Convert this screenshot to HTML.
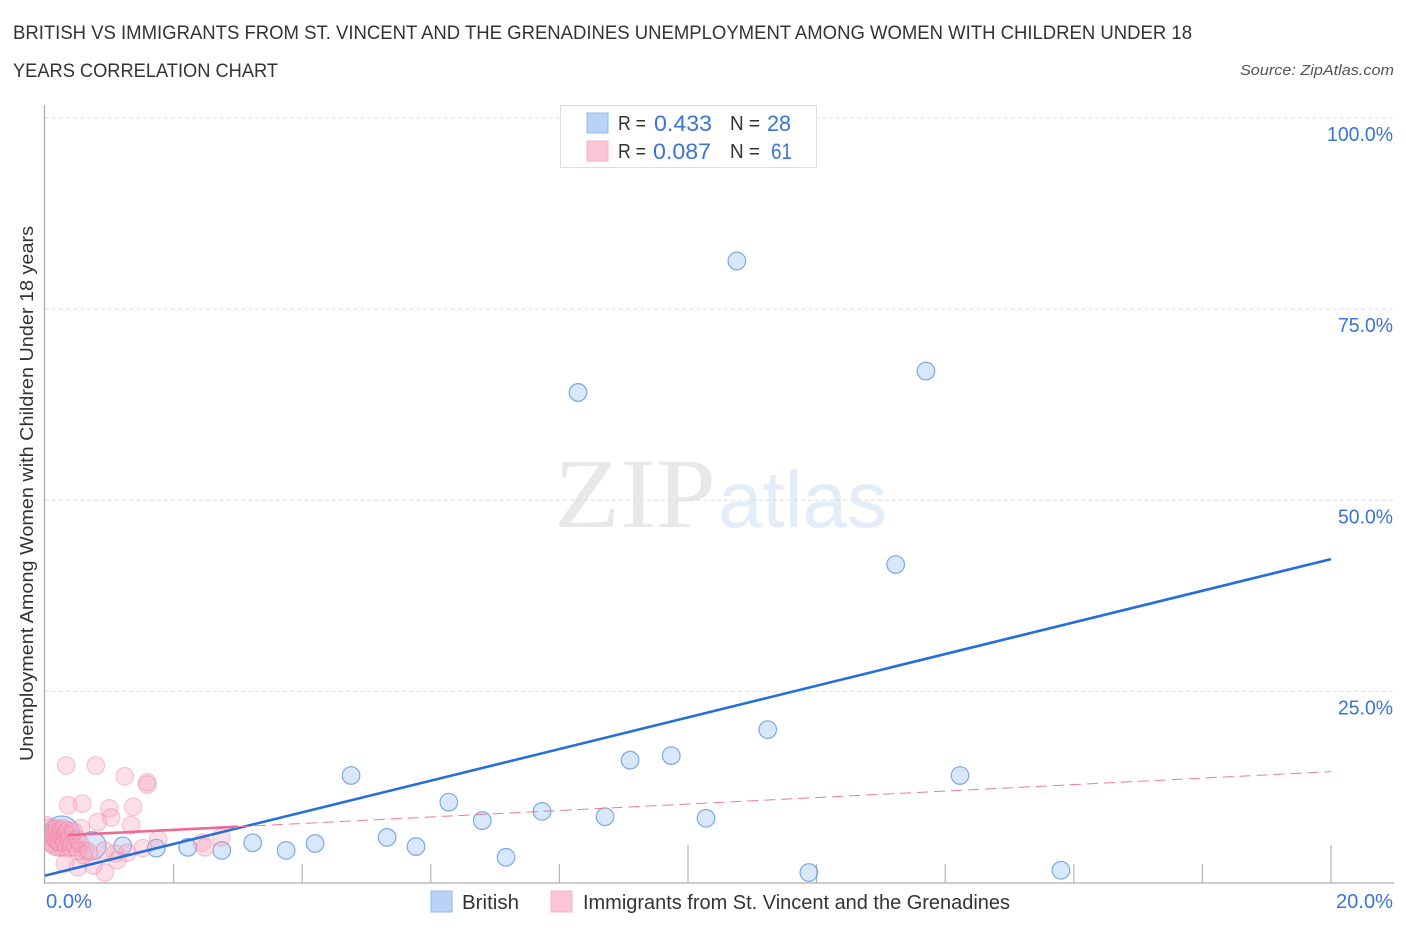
<!DOCTYPE html>
<html lang="en">
<head>
<meta charset="utf-8">
<title>British vs Immigrants from St. Vincent and the Grenadines Correlation Chart</title>
<style>
html,body{margin:0;padding:0;background:#fff;}
svg{display:block;font-family:"Liberation Sans",sans-serif;}
</style>
</head>
<body>
<svg id="chart" width="1406" height="930" viewBox="0 0 1406 930" xmlns="http://www.w3.org/2000/svg">
  <defs>
    <clipPath id="plotClip"><rect x="45" y="100" width="1350" height="783"/></clipPath>
  </defs>
  <rect width="1406" height="930" fill="#ffffff"/>
  <g fill="#333" font-size="19">
    <text x="13" y="39" textLength="1179" lengthAdjust="spacingAndGlyphs">BRITISH VS IMMIGRANTS FROM ST. VINCENT AND THE GRENADINES UNEMPLOYMENT AMONG WOMEN WITH CHILDREN UNDER 18</text>
    <text x="13" y="77" textLength="265" lengthAdjust="spacingAndGlyphs">YEARS CORRELATION CHART</text>
  </g>
  <text x="1394" y="75" text-anchor="end" font-size="15" font-style="italic" fill="#555" textLength="154" lengthAdjust="spacingAndGlyphs">Source: ZipAtlas.com</text>
  <g>
    <text x="554" y="527" font-family="'Liberation Serif',serif" font-size="100" fill="#e8e8e8" textLength="162" lengthAdjust="spacingAndGlyphs">ZIP</text>
    <text x="718" y="527" font-size="80" fill="#e3ecf9" textLength="169" lengthAdjust="spacingAndGlyphs">atlas</text>
  </g>
  <g id="grid"></g>
  <g id="axes"></g>
  <g id="yLabels"></g>
  <g id="xLabels"></g>
  <text transform="translate(33,761) rotate(-90)" font-size="18.5" fill="#333" textLength="535" lengthAdjust="spacingAndGlyphs">Unemployment Among Women with Children Under 18 years</text>
  <g id="bluePoints" clip-path="url(#plotClip)"></g>
  <g id="pinkPoints" clip-path="url(#plotClip)"></g>
  <g id="lines"></g>

  <g>
    <rect x="560.5" y="105.5" width="256" height="62" fill="#fff" stroke="#ddd"/>
    <rect x="587" y="113" width="21" height="20" fill="#b9d3f7" stroke="#90b8ec"/>
    <rect x="587" y="141" width="21" height="20" fill="#fcc5d6" stroke="#f6b2c8"/>
    <g font-size="20" fill="#333">
      <text x="618" y="130" textLength="28" lengthAdjust="spacingAndGlyphs">R =</text>
      <text x="730" y="130" textLength="30" lengthAdjust="spacingAndGlyphs">N =</text>
      <text x="618" y="158" textLength="28" lengthAdjust="spacingAndGlyphs">R =</text>
      <text x="730" y="158" textLength="30" lengthAdjust="spacingAndGlyphs">N =</text>
    </g>
    <g font-size="22" fill="#3a74d6">
      <text x="654" y="131" textLength="58" lengthAdjust="spacingAndGlyphs">0.433</text>
      <text x="767" y="131" textLength="24" lengthAdjust="spacingAndGlyphs">28</text>
      <text x="653" y="159" textLength="58" lengthAdjust="spacingAndGlyphs">0.087</text>
      <text x="771" y="159" textLength="21" lengthAdjust="spacingAndGlyphs">61</text>
    </g>
  </g>

  <g>
    <rect x="431" y="891" width="21" height="21" fill="#b9d3f7" stroke="#90b8ec"/>
    <text x="462" y="909" font-size="20" fill="#333" textLength="57" lengthAdjust="spacingAndGlyphs">British</text>
    <rect x="551" y="891" width="21" height="21" fill="#fcc5d6" stroke="#f6b2c8"/>
    <text x="583" y="909" font-size="20" fill="#333" textLength="427" lengthAdjust="spacingAndGlyphs">Immigrants from St. Vincent and the Grenadines</text>
  </g>
</svg>
<script>
const yTicks = [25, 50, 75, 100];
const yTickLabels = ["25.0%", "50.0%", "75.0%", "100.0%"];
const xTicks = [2, 4, 6, 8, 10, 12, 14, 16, 18, 20];
const xMajorTicks = [10, 20];
const xEdgeTicks = [0, 20];
const xEdgeLabels = ["0.0%", "20.0%"];

const britishX = [10.76, 8.29, 13.70, 13.23, 11.24, 9.74, 9.10, 4.76, 14.23, 6.28, 7.73, 6.80, 8.71, 10.28, 5.32, 3.23, 4.20, 5.77, 2.22, 1.73, 1.21, 2.75, 3.75, 7.17, 11.88, 15.80, 0.26, 0.73];
const britishY = [81.3, 64.1, 66.9, 41.6, 20.0, 16.6, 16.0, 14.0, 14.0, 10.5, 9.3, 8.1, 8.6, 8.4, 5.9, 5.2, 5.1, 4.7, 4.6, 4.5, 4.8, 4.2, 4.2, 3.3, 1.3, 1.6, 6.4, 4.8];
const britishWeight = [1, 1, 1, 1, 1, 1, 1, 1, 1, 1, 1, 1, 1, 1, 1, 1, 1, 1, 1, 1, 1, 1, 1, 1, 1, 1, 2, 1.6];

const immigrantsX = [0.33, 0.79, 1.24, 1.59, 1.59, 0.36, 0.58, 1.00, 1.37, 1.03, 0.82, 1.34, 0.56, 1.76, 1.52, 1.28, 1.12, 1.09, 0.93, 0.75, 0.51, 0.31, 0.93, 0.62, 2.44, 2.49, 2.74,
  0.02, 0.04, 0.06, 0.08, 0.10, 0.11, 0.12, 0.14, 0.15, 0.16, 0.18, 0.19, 0.20, 0.22, 0.23, 0.25, 0.26, 0.28, 0.29, 0.30, 0.32, 0.33, 0.35, 0.36, 0.38, 0.40, 0.42, 0.44, 0.47, 0.50, 0.52, 0.55, 0.60, 0.68];
const immigrantsY = [15.3, 15.3, 13.9, 13.1, 12.8, 10.1, 10.3, 9.7, 9.9, 8.5, 7.9, 7.5, 7.1, 5.6, 4.5, 3.9, 2.9, 3.8, 1.3, 2.2, 2.0, 2.5, 4.2, 4.2, 5.2, 4.6, 5.9,
  7.5, 6.2, 5.3, 7.2, 6.5, 5.0, 6.0, 7.0, 4.7, 6.5, 5.5, 7.1, 4.6, 6.2, 5.3, 6.9, 4.6, 5.9, 7.1, 5.2, 6.4, 4.5, 6.8, 5.6, 6.1, 4.6, 5.1, 6.7, 4.6, 5.7, 4.1, 5.1, 3.6, 4.0];

const britishTrendX = [0, 20];
const britishTrendY = [0.9, 42.3];
const immigrantsSolidX = [0.36, 3.0];
const immigrantsSolidY = [6.2, 7.3];
const immigrantsDashedX = [3.0, 20];
const immigrantsDashedY = [7.3, 14.5];

const NS = "http://www.w3.org/2000/svg";
function sx(v) { return 45 + v * 64.3; }
function sy(v) { return 882.5 - v * 7.645; }
function make(parent, tag, attrs) {
  const el = document.createElementNS(NS, tag);
  for (const k in attrs) el.setAttribute(k, attrs[k]);
  document.getElementById(parent).appendChild(el);
  return el;
}

yTicks.forEach(function (t, i) {
  const line = make("grid", "line", { x1: 45, x2: 1394, y1: sy(t), y2: sy(t), stroke: "#dedede", "stroke-width": 1, "stroke-dasharray": "4 3" });
  
  
  const label = make("yLabels", "text", { x: 1393, y: sy(t) + 23, "text-anchor": "end", "font-size": 20, fill: "#3a74d6", textLength: t === 100 ? 66 : 55, lengthAdjust: "spacingAndGlyphs" });
  label.textContent = yTickLabels[i];
  
  
});

const yAxis = make("axes", "line", { x1: 44.5, x2: 44.5, y1: 105, y2: 884, stroke: "#aaa", "stroke-width": 1.2 });


const xAxis = make("axes", "line", { x1: 44, x2: 1394, y1: 883, y2: 883, stroke: "#bbb", "stroke-width": 1.6 });



xTicks.forEach(function (t) {
  const top = xMajorTicks.indexOf(t) >= 0 ? 845 : 864;
  const tick = make("axes", "line", { x1: sx(t), x2: sx(t), y1: top, y2: 883, stroke: "#b5b5b5", "stroke-width": 1.2 });
  
  
});

xEdgeTicks.forEach(function (t, i) {
  const lbl = make("xLabels", "text", { x: i === 0 ? 46 : 1393, y: 908, "text-anchor": i === 0 ? "start" : "end", "font-size": 20, fill: "#3a74d6", textLength: i === 0 ? 46 : 57, lengthAdjust: "spacingAndGlyphs" });
  lbl.textContent = xEdgeLabels[i];
  
  
});

britishX.forEach(function (x, i) {
  const dot = make("bluePoints", "circle", { cx: sx(x), cy: sy(britishY[i]), r: 8.8 * britishWeight[i], fill: "#a9c9f4", "fill-opacity": 0.45, stroke: "#5f97df", "stroke-opacity": 0.8, "stroke-width": 1.2 });
  
  
});

immigrantsX.forEach(function (x, i) {
  const dot = make("pinkPoints", "circle", { cx: sx(x), cy: sy(immigrantsY[i]), r: 8.8, fill: "#f8a5c0", "fill-opacity": 0.36, stroke: "#ee7fa3", "stroke-opacity": 0.42, "stroke-width": 1.1 });
  
  
});

const blueLine = make("lines", "line", { x1: sx(britishTrendX[0]), y1: sy(britishTrendY[0]), x2: sx(britishTrendX[1]), y2: sy(britishTrendY[1]), stroke: "#2470d8", "stroke-width": 2.6 });


const pinkSolid = make("lines", "line", { x1: sx(immigrantsSolidX[0]), y1: sy(immigrantsSolidY[0]), x2: sx(immigrantsSolidX[1]), y2: sy(immigrantsSolidY[1]), stroke: "#ec6a93", "stroke-width": 2.6 });


const pinkDashed = make("lines", "line", { x1: sx(immigrantsDashedX[0]), y1: sy(immigrantsDashedY[0]), x2: sx(immigrantsDashedX[1]), y2: sy(immigrantsDashedY[1]), stroke: "#ec7a9e", "stroke-width": 1, "stroke-dasharray": "11 6" });


</script>
</body>
</html>
